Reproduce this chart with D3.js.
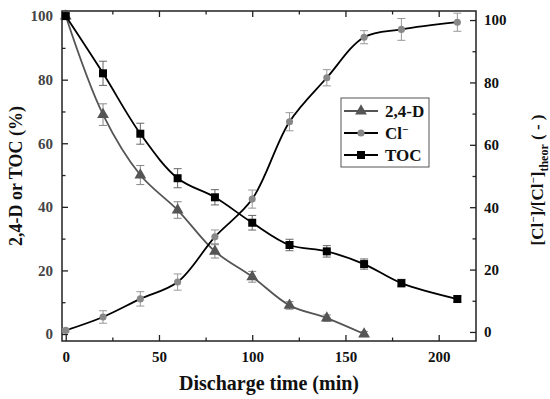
<!DOCTYPE html>
<html>
<head>
<meta charset="utf-8">
<script src="https://cdn.jsdelivr.net/npm/d3@7"></script>
<style>
  body { margin: 0; background: #fff; }
  text { font-family: "Liberation Serif", "Times New Roman", serif; font-weight: bold; }
</style>
</head>
<body>
<div id="chart"></div>
<script>
// discharge times (min)
const timeD = [0, 20, 40, 60, 80, 100, 120, 140, 160]
const timeT = [0, 20, 40, 60, 80, 100, 120, 140, 160, 180, 210]
const timeC = [0, 20, 40, 60, 80, 100, 120, 140, 160, 180, 210]

// 2,4-D (%) left axis
const dVals = [100, 69, 50, 39, 26, 18, 9, 5, 0]
const dErr = [0.8, 3.4, 3, 2.6, 2.1, 1.7, 1.2, 1, 0.8]
// TOC (%) left axis
const tocVals = [100, 82, 63, 49, 43, 35, 28, 26, 22, 16, 11]
const tocErr = [0.8, 3.8, 3.3, 3, 2.4, 2.3, 1.8, 1.8, 1.6, 1.2, 1]
// Cl- ratio right axis
const clVals = [0.5, 4.8, 10.6, 16, 30.5, 42.6, 67.4, 81.5, 94.5, 97, 99.3]
const clErr = [0.5, 2, 2.3, 2.6, 2.2, 2.9, 2.9, 2.6, 2.1, 3.5, 2.9]

const xTicks = [0, 50, 100, 150, 200]
const yTicks = [0, 20, 40, 60, 80, 100]

const W = 550, H = 399
const L = 62, R = 476, T = 11, B = 341

const svg = d3.select('#chart').append('svg')
  .attr('width', W)
  .attr('height', H)

const x = d3.scaleLinear().domain([-2, 220]).range([L, R])
const yL = d3.scaleLinear().domain([-2.2, 101.6]).range([B, T])
const yR = d3.scaleLinear().domain([-2.9, 102.9]).range([B, T])

// frame
svg.append('rect')
  .attr('x', L).attr('y', T)
  .attr('width', R - L).attr('height', B - T)
  .attr('fill', 'none').attr('stroke', '#222').attr('stroke-width', 1.5)

const minorY = d3.range(10, 101, 20)
const minorX = d3.range(25, 220, 50)

function styleAxis(g, color) {
  g.select('.domain').remove()
  g.selectAll('line').attr('stroke', '#222').attr('stroke-width', 1.3)
  g.selectAll('text').attr('fill', color).style('font-size', '15px')
}

// left axis
svg.append('g').attr('transform', `translate(${L},0)`)
  .call(d3.axisLeft(yL).tickValues(yTicks).tickSize(-6).tickPadding(9))
  .call(g => styleAxis(g, '#444'))
svg.append('g').attr('transform', `translate(${L},0)`)
  .call(d3.axisLeft(yL).tickValues(minorY).tickSize(-3.5).tickFormat(''))
  .call(g => styleAxis(g, '#444'))

// right axis
svg.append('g').attr('transform', `translate(${R},0)`)
  .call(d3.axisRight(yR).tickValues(yTicks).tickSize(-6).tickPadding(8))
  .call(g => styleAxis(g, '#111'))
svg.append('g').attr('transform', `translate(${R},0)`)
  .call(d3.axisRight(yR).tickValues(minorY).tickSize(-3.5).tickFormat(''))
  .call(g => styleAxis(g, '#111'))

// bottom axis
svg.append('g').attr('transform', `translate(0,${B})`)
  .call(d3.axisBottom(x).tickValues(xTicks).tickSize(-6).tickPadding(10))
  .call(g => styleAxis(g, '#111'))
svg.append('g').attr('transform', `translate(0,${B})`)
  .call(d3.axisBottom(x).tickValues(minorX).tickSize(-3.5).tickFormat(''))
  .call(g => styleAxis(g, '#111'))

// top axis (ticks only)
svg.append('g').attr('transform', `translate(0,${T})`)
  .call(d3.axisTop(x).tickValues(xTicks).tickSize(-6).tickFormat(''))
  .call(g => styleAxis(g, '#111'))
svg.append('g').attr('transform', `translate(0,${T})`)
  .call(d3.axisTop(x).tickValues(minorX).tickSize(-3.5).tickFormat(''))
  .call(g => styleAxis(g, '#111'))

// titles
svg.append('text')
  .attr('x', (L + R) / 2).attr('y', 390)
  .attr('text-anchor', 'middle')
  .style('font-size', '20px')
  .attr('fill', '#111')
  .text('Discharge time (min)')

svg.append('text')
  .attr('transform', 'translate(22,176) rotate(-90)')
  .attr('text-anchor', 'middle')
  .style('font-size', '18px')
  .attr('fill', '#111')
  .text('2,4-D or TOC (%)')

const rt = svg.append('text')
  .attr('transform', 'translate(543,180) rotate(-90)')
  .attr('text-anchor', 'middle')
  .style('font-size', '17px')
  .attr('fill', '#111')
rt.append('tspan').text('[Cl')
rt.append('tspan').attr('dy', -6).style('font-size', '11px').text('−')
rt.append('tspan').attr('dy', 6).text(']/[Cl')
rt.append('tspan').attr('dy', -6).style('font-size', '11px').text('−')
rt.append('tspan').attr('dy', 6).text(']')
rt.append('tspan').attr('dy', 5).style('font-size', '12px').text('theor')
rt.append('tspan').attr('dy', -5).text(' ( - )')

// series
const series = [
  { t: timeD, v: dVals, e: dErr, y: yL, line: '#555', fill: '#555', bar: '#888', shape: d3.symbolTriangle, size: 60 },
  { t: timeC, v: clVals, e: clErr, y: yR, line: '#000', fill: '#888', bar: '#999', shape: d3.symbolCircle, size: 40 },
  { t: timeT, v: tocVals, e: tocErr, y: yL, line: '#000', fill: '#000', bar: '#666', shape: d3.symbolSquare, size: 64 }
]

series.forEach(s => {
  const pts = s.t.map((t, i) => ({ t, v: s.v[i], e: s.e[i] }))
  const line = d3.line()
    .x(d => x(d.t))
    .y(d => s.y(d.v))
    .curve(d3.curveCatmullRom.alpha(0.5))
  svg.append('path')
    .datum(pts)
    .attr('d', line)
    .attr('fill', 'none')
    .attr('stroke', s.line)
    .attr('stroke-width', 1.8)

  const eb = svg.append('g').selectAll('g').data(pts).enter().append('g')
    .attr('stroke', s.bar).attr('stroke-width', 1)
  eb.append('line')
    .attr('x1', d => x(d.t)).attr('x2', d => x(d.t))
    .attr('y1', d => s.y(d.v - d.e)).attr('y2', d => s.y(d.v + d.e))
  eb.append('line')
    .attr('x1', d => x(d.t) - 4).attr('x2', d => x(d.t) + 4)
    .attr('y1', d => s.y(d.v - d.e)).attr('y2', d => s.y(d.v - d.e))
  eb.append('line')
    .attr('x1', d => x(d.t) - 4).attr('x2', d => x(d.t) + 4)
    .attr('y1', d => s.y(d.v + d.e)).attr('y2', d => s.y(d.v + d.e))

  svg.append('g').selectAll('path').data(pts).enter().append('path')
    .attr('d', d3.symbol().type(s.shape).size(s.size))
    .attr('transform', d => `translate(${x(d.t)},${s.y(d.v)})`)
    .attr('fill', s.fill)
})

// legend
const legend = svg.append('g')
legend.append('rect')
  .attr('x', 341).attr('y', 98)
  .attr('width', 88).attr('height', 69)
  .attr('fill', '#fff').attr('stroke', '#555').attr('stroke-width', 1)

const legItems = [
  { name: '2,4-D', s: series[0] },
  { name: 'Cl', sup: '−', s: series[1] },
  { name: 'TOC', s: series[2] }
]
legItems.forEach((it, i) => {
  const yy = 111 + i * 22
  legend.append('line')
    .attr('x1', 344).attr('x2', 378).attr('y1', yy).attr('y2', yy)
    .attr('stroke', it.s.line).attr('stroke-width', 1.8)
  legend.append('path')
    .attr('d', d3.symbol().type(it.s.shape).size(it.s.size)())
    .attr('transform', `translate(361,${yy})`)
    .attr('fill', it.s.fill)
  const tx = legend.append('text')
    .attr('x', 385).attr('y', yy + 6)
    .style('font-size', '17px')
    .attr('fill', '#111')
  tx.append('tspan').text(it.name)
  if (it.sup) tx.append('tspan').attr('dy', -6).style('font-size', '11px').text(it.sup)
})
</script>
</body>
</html>
